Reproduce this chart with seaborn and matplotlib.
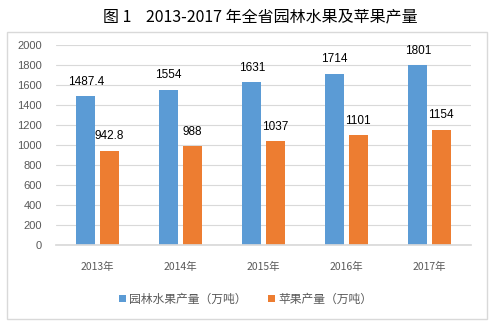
import matplotlib
matplotlib.use("Agg")
import matplotlib.pyplot as plt
import seaborn as sns
import pandas as pd
from matplotlib.patches import Rectangle

years = ["2013年", "2014年", "2015年", "2016年", "2017年"]
garden_fruit = [1487.4, 1554, 1631, 1714, 1801]
apple = [942.8, 988, 1037, 1101, 1154]
series_names = ["园林水果产量（万吨）", "苹果产量（万吨）"]
yticks = list(range(0, 2001, 200))

sns.set_theme(style="white")
plt.rcParams["font.family"] = ["Noto Sans CJK SC", "DejaVu Sans"]

df = pd.DataFrame({
    "year": years * 2,
    "value": garden_fruit + apple,
    "series": [series_names[0]] * len(years) + [series_names[1]] * len(years),
})

colors = ["#5b9bd5", "#ed7d31"]

fig = plt.figure(figsize=(4.91, 3.27), dpi=100)
fig.patch.set_facecolor("white")
# outer frame of the chart area
fig.patches.append(Rectangle((7 / 491, 1 - 319 / 327), 480 / 491, 287 / 327,
                             transform=fig.transFigure, fill=False,
                             edgecolor="#d9d9d9", linewidth=1.0))

ax = fig.add_axes([56 / 491, 1 - 245 / 327, 415 / 491, 200 / 327])
sns.barplot(data=df, x="year", y="value", hue="series", palette=colors,
            width=0.566, gap=0.19, ax=ax, legend=True, saturation=1,
            linewidth=0, edgecolor="none")

ax.set_ylim(0, 2000)
ax.set_yticks(yticks)
ax.set_xlim(-0.5, len(years) - 0.5)
ax.set_xlabel("")
ax.set_ylabel("")
ax.yaxis.grid(True, color="#d9d9d9", linewidth=0.8)
ax.set_axisbelow(True)
for s in ["top", "right", "left"]:
    ax.spines[s].set_visible(False)
ax.spines["bottom"].set_color("#d9d9d9")
ax.tick_params(axis="y", length=0, labelsize=8, labelcolor="#595959", pad=10)
ax.tick_params(axis="x", length=0, labelsize=7.5, labelcolor="#595959", pad=12)
for lab in ax.get_yticklabels():
    lab.set_fontfamily(["Liberation Sans", "DejaVu Sans"])

for cont in ax.containers:
    labels = [f"{v:g}" for v in cont.datavalues]
    ax.bar_label(cont, labels=labels, padding=6, fontsize=8.5, color="black",
                 family=["Liberation Sans", "DejaVu Sans"])

handles, labels = ax.get_legend_handles_labels()
ax.legend_.remove()
fig.legend(handles, labels, loc="center", bbox_to_anchor=(0.5, 1 - 299 / 327),
           ncol=2, frameon=False, fontsize=8.5, handlelength=0.6,
           handleheight=0.6, handletextpad=0.3, columnspacing=1.8,
           labelcolor="#595959")

fig.text(0.53, 1 - 17 / 327, "图 1    2013-2017 年全省园林水果及苹果产量",
         ha="center", va="center", fontsize=11.5, fontweight="medium", color="black")

fig.savefig("out.png", dpi=100)
